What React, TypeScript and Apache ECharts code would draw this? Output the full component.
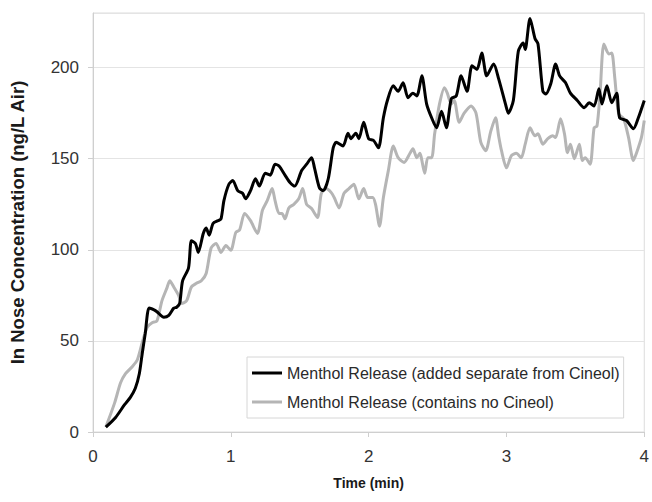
import React, { useEffect, useRef } from "react";
import * as echarts from "echarts";

const seriesNames = [
  "Menthol Release (added separate from Cineol)",
  "Menthol Release (contains no Cineol)",
];

const xTicks = [0, 1, 2, 3, 4];
const yTicks = [0, 50, 100, 150, 200];

// [time (min), concentration (ng/L air)]
const releaseSeparate: [number, number][] = [
  [0.093, 2.7], [0.164, 8], [0.229, 15], [0.271, 19], [0.307, 24], [0.336, 32], [0.357, 43], [0.379, 54],
  [0.407, 68], [0.443, 67], [0.464, 66], [0.514, 63], [0.55, 64], [0.586, 68], [0.607, 68.5], [0.629, 70.6],
  [0.65, 83], [0.693, 90], [0.714, 105], [0.743, 103.5], [0.764, 98.6], [0.8, 109], [0.821, 112], [0.843, 108],
  [0.871, 114.5], [0.907, 116], [0.929, 117], [0.95, 127], [0.986, 136], [1.014, 138], [1.05, 132.5], [1.086, 131],
  [1.107, 128], [1.143, 132.5], [1.179, 139], [1.207, 135], [1.25, 142], [1.286, 141], [1.321, 147], [1.35, 146],
  [1.393, 141], [1.429, 137], [1.464, 135], [1.514, 143.5], [1.55, 147], [1.586, 150.6], [1.607, 145], [1.643, 134],
  [1.671, 132.5], [1.707, 139], [1.743, 156], [1.764, 159], [1.814, 157], [1.85, 164], [1.871, 161], [1.907, 164],
  [1.929, 161], [1.964, 170], [2.0, 161], [2.036, 160], [2.071, 156], [2.107, 172.5], [2.136, 182], [2.179, 190],
  [2.214, 187], [2.25, 191.7], [2.286, 183.5], [2.321, 186], [2.35, 184.5], [2.386, 195.5], [2.421, 180], [2.457, 172.5],
  [2.493, 167], [2.529, 176], [2.564, 167], [2.6, 183], [2.636, 184.5], [2.671, 195.5], [2.714, 187], [2.75, 201],
  [2.786, 199], [2.821, 208], [2.857, 195.5], [2.907, 202], [2.943, 194], [2.993, 180], [3.014, 175], [3.05, 182],
  [3.086, 209], [3.121, 213.6], [3.136, 210], [3.171, 227], [3.207, 216], [3.229, 213], [3.264, 187], [3.286, 185.6],
  [3.321, 191], [3.357, 202], [3.386, 195.5], [3.429, 191.7], [3.464, 186], [3.514, 182], [3.564, 178], [3.6, 180.7],
  [3.636, 179], [3.671, 188.4], [3.693, 180], [3.729, 190], [3.764, 180.7], [3.8, 186], [3.821, 172.5], [3.871, 171],
  [3.921, 166.5], [3.957, 172.5], [4.0, 182],
];

const releaseNoCineol: [number, number][] = [
  [0.093, 2.7], [0.157, 16], [0.2, 27], [0.236, 32], [0.286, 36], [0.321, 39.5], [0.357, 49], [0.393, 57.5],
  [0.429, 60], [0.464, 61], [0.5, 72], [0.536, 79], [0.557, 83], [0.586, 79.6], [0.621, 75], [0.643, 70.6],
  [0.679, 72], [0.714, 79.6], [0.75, 81.6], [0.786, 83], [0.821, 87], [0.857, 101], [0.893, 103.5], [0.929, 98.6],
  [0.964, 102.4], [1.0, 99.7], [1.036, 109.5], [1.064, 111], [1.1, 120], [1.143, 116], [1.193, 109], [1.229, 121.6],
  [1.264, 127], [1.3, 133.6], [1.321, 127], [1.35, 120], [1.371, 120], [1.393, 117], [1.421, 123], [1.457, 125],
  [1.493, 128], [1.521, 133.6], [1.55, 125], [1.586, 122.7], [1.629, 117.7], [1.657, 131], [1.693, 133.6], [1.729, 131.4],
  [1.75, 128.7], [1.786, 123], [1.821, 131], [1.857, 133.6], [1.893, 136], [1.929, 128], [1.964, 133.6], [1.993, 128.7],
  [2.029, 128.7], [2.05, 125], [2.079, 113], [2.107, 128.7], [2.143, 143.5], [2.179, 157], [2.214, 150.6], [2.257, 148],
  [2.3, 153], [2.321, 155.5], [2.35, 150.6], [2.371, 153], [2.407, 142], [2.429, 150.6], [2.457, 150.6], [2.479, 163.7],
  [2.514, 180], [2.55, 189], [2.571, 186], [2.6, 180], [2.621, 182], [2.657, 170], [2.693, 175], [2.743, 179],
  [2.779, 175], [2.814, 159], [2.85, 154.4], [2.886, 165], [2.921, 172.5], [2.943, 162.6], [2.964, 154.4], [3.0, 145],
  [3.036, 151.7], [3.071, 153], [3.107, 150.6], [3.136, 158], [3.171, 167], [3.207, 162.6], [3.229, 163.7], [3.264, 158],
  [3.3, 161], [3.336, 162.6], [3.357, 161.6], [3.393, 172], [3.421, 163.7], [3.443, 153.3], [3.464, 158], [3.493, 150],
  [3.529, 158], [3.55, 149], [3.571, 150.6], [3.607, 147], [3.636, 167], [3.657, 168], [3.679, 185.6], [3.707, 213],
  [3.743, 207.5], [3.764, 208], [3.786, 194.4], [3.814, 174.7], [3.85, 172], [3.886, 161.6], [3.921, 149], [3.943, 153],
  [3.979, 161.6], [4.0, 171],
];

const FONT = "'Liberation Sans', Arial, sans-serif";

export default function App() {
  const ref = useRef<HTMLDivElement>(null);
  useEffect(() => {
    if (!ref.current) return;
    const chart = echarts.init(ref.current, null, { renderer: "svg" });
    chart.setOption({
      animation: false,
      backgroundColor: "#ffffff",
      textStyle: { fontFamily: FONT },
      grid: {
        left: 88,
        right: 4,
        top: 13,
        bottom: 70,
        show: true,
        borderColor: "#dcdcdc",
        borderWidth: 1,
      },
      legend: {
        orient: "vertical",
        left: 247,
        top: 357,
        padding: [8, 4, 8, 5],
        itemGap: 13,
        itemWidth: 30,
        itemHeight: 3,
        icon: "rect",
        borderColor: "#d6d6d6",
        borderWidth: 1,
        data: seriesNames,
        textStyle: { fontFamily: FONT, fontSize: 16, color: "#2a2a2a" },
      },
      xAxis: {
        type: "value",
        min: xTicks[0],
        max: xTicks[xTicks.length - 1],
        interval: 1,
        name: "Time (min)",
        nameLocation: "middle",
        nameGap: 44,
        nameTextStyle: { fontFamily: FONT, fontSize: 14, fontWeight: "bold", color: "#1a1a1a" },
        axisLine: { lineStyle: { color: "#cfcfcf", width: 1 } },
        axisTick: { show: true, length: 5, lineStyle: { color: "#cfcfcf" } },
        axisLabel: { fontSize: 17, color: "#333333", margin: 16, fontFamily: FONT },
        splitLine: { show: false },
      },
      yAxis: {
        type: "value",
        min: yTicks[0],
        max: 230,
        interval: 50,
        name: "In Nose Concentration (ng/L Air)",
        nameLocation: "middle",
        nameGap: 66,
        nameTextStyle: { fontFamily: FONT, fontSize: 18.5, fontWeight: "bold", color: "#1a1a1a" },
        axisLine: { show: true, lineStyle: { color: "#cfcfcf", width: 1 } },
        axisTick: { show: true, length: 5, lineStyle: { color: "#cfcfcf" } },
        axisLabel: { fontSize: 17, color: "#333333", margin: 14, fontFamily: FONT, showMaxLabel: false },
        splitLine: { show: true, lineStyle: { color: "#e4e4e4", width: 1 } },
      },
      series: [
        {
          name: seriesNames[0],
          type: "line",
          data: releaseSeparate,
          showSymbol: false,
          symbol: "none",
          smooth: 0.25,
          z: 3,
          lineStyle: { color: "#000000", width: 3 },
          itemStyle: { color: "#000000" },
        },
        {
          name: seriesNames[1],
          type: "line",
          data: releaseNoCineol,
          showSymbol: false,
          symbol: "none",
          smooth: 0.25,
          z: 2,
          lineStyle: { color: "#b5b5b5", width: 3 },
          itemStyle: { color: "#b5b5b5" },
        },
      ],
    });
    return () => chart.dispose();
  }, []);
  return (
    <div
      ref={ref}
      style={{ position: "fixed", left: 0, top: 0, width: 652, height: 502 }}
    />
  );
}
